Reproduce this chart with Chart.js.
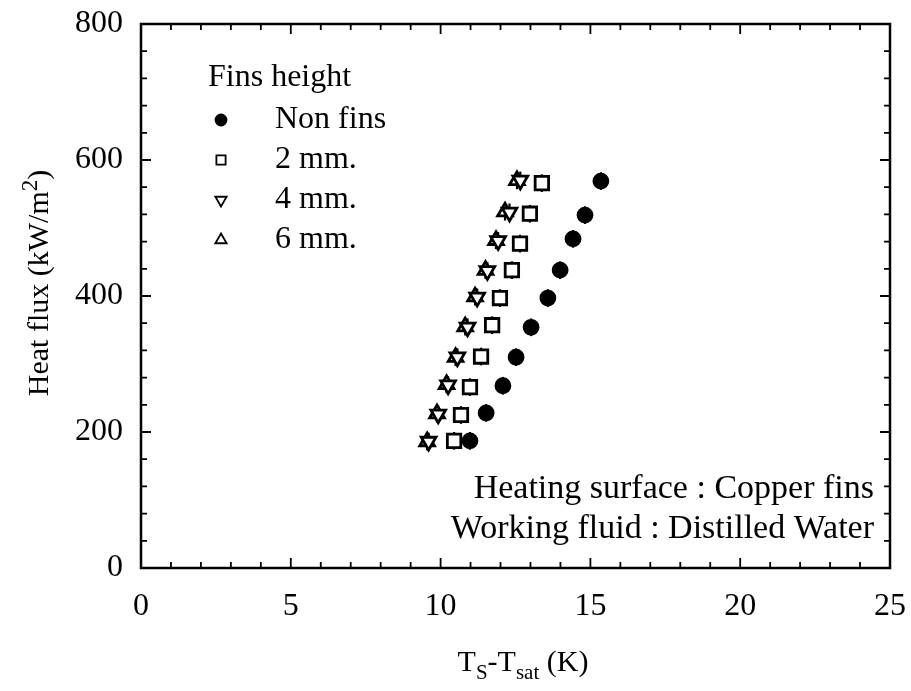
<!DOCTYPE html>
<html>
<head>
<meta charset="utf-8">
<title>Heat flux vs wall superheat</title>
<script src="https://cdn.jsdelivr.net/npm/chart.js@4.4.1/dist/chart.umd.min.js"></script>
<style>
  html, body { margin: 0; padding: 0; background: #fff; }
  #wrap { width: 911px; height: 691px; }
</style>
</head>
<body>
<div id="wrap"><canvas id="boilingChart" width="911" height="691"></canvas></div>
<script>
// Wall superheat Ts - Tsat (K) and heat flux (kW/m2) for each fin height
const nonFinsX = [10.98, 11.52, 12.08, 12.52, 13.02, 13.58, 13.99, 14.42, 14.82, 15.35];
const nonFinsY = [187, 228, 268, 310, 354, 397, 438, 484, 519, 569];
const fins2X = [10.45, 10.68, 10.98, 11.35, 11.72, 11.98, 12.38, 12.65, 12.98, 13.38];
const fins2Y = [187, 225, 266, 311, 357, 397, 438, 477, 521, 566];
const fins4X = [9.6, 9.92, 10.25, 10.56, 10.9, 11.22, 11.56, 11.92, 12.3, 12.66];
const fins4Y = [186, 226, 269, 310, 354, 398, 437, 481, 523, 570];
const fins6X = [9.55, 9.88, 10.2, 10.5, 10.82, 11.15, 11.5, 11.85, 12.15, 12.55];
const fins6Y = [186, 227, 270, 310, 355, 399, 438, 482, 524, 570];

// measurement uncertainty on heat flux (kW/m2)
const heatFluxErr = 13;

const xTicks = [0, 5, 10, 15, 20, 25];
const yTicks = [0, 200, 400, 600, 800];
const xMinorStep = 1;
const yMinorStep = 40;

const FONT = "'Liberation Serif', 'Times New Roman', serif";

function toPoints(xs, ys) {
  return xs.map((x, i) => ({ x: x, y: ys[i] }));
}

const seriesInfo = [
  { label: 'Non fins', x: nonFinsX, y: nonFinsY, style: 'circle', fill: '#000', radius: 7, rotation: 0 },
  { label: '2 mm.', x: fins2X, y: fins2Y, style: 'rect', fill: '#fff', radius: 9.5, rotation: 0 },
  { label: '4 mm.', x: fins4X, y: fins4Y, style: 'triangle', fill: '#fff', radius: 8.5, rotation: 180 },
  { label: '6 mm.', x: fins6X, y: fins6Y, style: 'triangle', fill: '#fff', radius: 8.5, rotation: 0 }
];

const datasets = seriesInfo.map(s => ({
  label: s.label,
  data: toPoints(s.x, s.y),
  pointStyle: s.style,
  pointRadius: s.radius,
  pointRotation: s.rotation,
  pointBackgroundColor: s.fill,
  pointBorderColor: '#000',
  pointBorderWidth: 2.8,
  showLine: false
}));

// keep the plot box where the layout padding puts it
function fixAxis(size, key) {
  return s => {
    s[key] = size;
    s.paddingTop = 0; s.paddingBottom = 0;
    s.paddingLeft = 0; s.paddingRight = 0;
  };
}

// short vertical error bars behind each marker
const errorBars = {
  id: 'errorBars',
  beforeDatasetsDraw(chart) {
    const { ctx, scales: { x, y } } = chart;
    ctx.save();
    ctx.strokeStyle = '#000';
    ctx.lineWidth = 2.2;
    chart.data.datasets.forEach(ds => {
      ds.data.forEach(p => {
        const px = x.getPixelForValue(p.x);
        ctx.beginPath();
        ctx.moveTo(px, y.getPixelForValue(p.y - heatFluxErr));
        ctx.lineTo(px, y.getPixelForValue(p.y + heatFluxErr));
        ctx.stroke();
      });
    });
    ctx.restore();
  }
};

// boxed frame with inward ticks on all four sides, legend, titles, notes
const decorations = {
  id: 'decorations',
  afterDraw(chart) {
    const { ctx, chartArea: a, scales: { x, y } } = chart;
    ctx.save();
    ctx.strokeStyle = '#000';
    ctx.lineWidth = 2.5;
    ctx.strokeRect(a.left, a.top, a.right - a.left, a.bottom - a.top);

    ctx.lineWidth = 1.8;
    for (let v = 0; v <= 25; v += xMinorStep) {
      const px = x.getPixelForValue(v);
      const len = xTicks.includes(v) ? 10 : 6;
      ctx.beginPath();
      ctx.moveTo(px, a.bottom); ctx.lineTo(px, a.bottom - len);
      ctx.moveTo(px, a.top); ctx.lineTo(px, a.top + len);
      ctx.stroke();
    }
    for (let v = 0; v <= 800; v += yMinorStep) {
      const py = y.getPixelForValue(v);
      const len = yTicks.includes(v) ? 10 : 6;
      ctx.beginPath();
      ctx.moveTo(a.left, py); ctx.lineTo(a.left + len, py);
      ctx.moveTo(a.right, py); ctx.lineTo(a.right - len, py);
      ctx.stroke();
    }

    // legend
    ctx.fillStyle = '#000';
    ctx.textBaseline = 'middle';
    ctx.textAlign = 'left';
    ctx.font = '32px ' + FONT;
    ctx.fillText('Fins height', 208, 78);
    seriesInfo.forEach((s, i) => {
      const cy = 120 + i * 40;
      ctx.fillStyle = s.fill;
      ctx.strokeStyle = '#000';
      ctx.lineWidth = 1.8;
      Chart.helpers.drawPoint(ctx, {
        pointStyle: s.style,
        radius: s.style === 'circle' ? 5.5 : 6.5,
        rotation: s.rotation,
        borderWidth: 1.8
      }, 221, cy);
      ctx.fillStyle = '#000';
      ctx.fillText(s.label, 275, cy);
    });

    // notes
    ctx.font = '34px ' + FONT;
    ctx.textAlign = 'right';
    ctx.textBaseline = 'alphabetic';
    ctx.fillText('Heating surface : Copper fins', 874, 498);
    ctx.fillText('Working fluid : Distilled Water', 874, 538);

    // x title: Ts-Tsat (K)
    const parts = [
      { t: 'T', size: 30, dy: 0 },
      { t: 'S', size: 21, dy: 8 },
      { t: '-T', size: 30, dy: 0 },
      { t: 'sat', size: 21, dy: 8 },
      { t: ' (K)', size: 30, dy: 0 }
    ];
    let total = 0;
    parts.forEach(p => { ctx.font = p.size + 'px ' + FONT; p.w = ctx.measureText(p.t).width; total += p.w; });
    let cx = 523 - total / 2;
    ctx.textAlign = 'left';
    parts.forEach(p => {
      ctx.font = p.size + 'px ' + FONT;
      ctx.fillText(p.t, cx, 671 + p.dy);
      cx += p.w;
    });

    // y title: Heat flux (kW/m2)
    ctx.translate(48, 283);
    ctx.rotate(-Math.PI / 2);
    const yParts = [
      { t: 'Heat flux (kW/m', size: 30, dy: 0 },
      { t: '2', size: 23, dy: -11 },
      { t: ')', size: 30, dy: 0 }
    ];
    total = 0;
    yParts.forEach(p => { ctx.font = p.size + 'px ' + FONT; p.w = ctx.measureText(p.t).width; total += p.w; });
    cx = -total / 2;
    yParts.forEach(p => {
      ctx.font = p.size + 'px ' + FONT;
      ctx.fillText(p.t, cx, p.dy);
      cx += p.w;
    });
    ctx.restore();
  }
};

new Chart(document.getElementById('boilingChart'), {
  type: 'scatter',
  data: { datasets: datasets },
  plugins: [errorBars, decorations],
  options: {
    responsive: false,
    animation: false,
    devicePixelRatio: 1,
    layout: { padding: { top: 24, right: 21, left: 0, bottom: 0 } },
    plugins: { legend: { display: false }, tooltip: { enabled: false } },
    scales: {
      x: {
        type: 'linear', min: 0, max: 25,
        afterBuildTicks: s => { s.ticks = xTicks.map(v => ({ value: v })); },
        afterFit: fixAxis(123, 'height'),
        grid: { display: false, drawTicks: false },
        border: { display: false },
        ticks: { color: '#000', padding: 19, maxRotation: 0, font: { family: FONT, size: 32 } }
      },
      y: {
        type: 'linear', min: 0, max: 800,
        afterBuildTicks: s => { s.ticks = yTicks.map(v => ({ value: v })); },
        afterFit: fixAxis(141, 'width'),
        grid: { display: false, drawTicks: false },
        border: { display: false },
        ticks: { color: '#000', padding: 18, font: { family: FONT, size: 32 } }
      }
    }
  }
});
</script>
</body>
</html>
